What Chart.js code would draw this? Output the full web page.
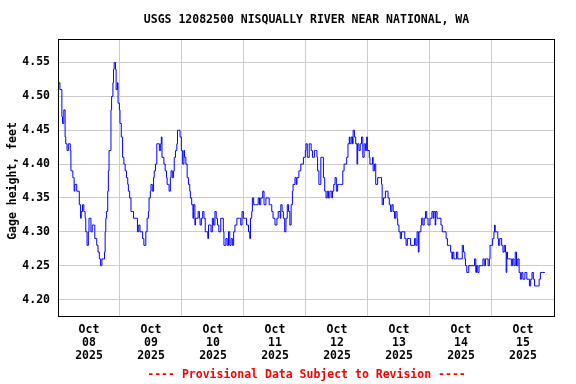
<!DOCTYPE html>
<html>
<head>
<meta charset="utf-8">
<script src="https://cdn.jsdelivr.net/npm/chart.js@4"></script>
<style>
  html, body { margin: 0; padding: 0; background: #ffffff; }
  canvas { display: block; }
</style>
</head>
<body>
<canvas id="gageChart" width="576" height="384"></canvas>
<script>
/* ---------- DATA ---------- */
// hours since Oct 08 2025 00:00, gage height in feet
const hours = [
  0, 0.75, 1.5, 1.75, 2.25, 2.75, 3, 3.5, 4, 4.75, 5, 5.75, 6.25, 6.5, 7.25, 7.75,
  8.25, 8.75, 9, 9.5, 10, 10.5, 10.75, 11.25, 11.75, 12, 12.75, 13.25, 13.75, 14.25, 14.75, 15,
  15.5, 16, 16.5, 17, 17.5, 18, 18.25, 18.5, 18.75, 19.25, 19.5, 19.75, 20.5, 20.75, 21.25, 21.5,
  21.75, 22.25, 22.5, 23, 23.25, 23.75, 24, 24.5, 25, 25.5, 26, 26.5, 27, 27.25, 27.75, 28.25,
  28.75, 29.25, 29.75, 30.25, 30.75, 31.25, 31.75, 32.25, 32.75, 33.25, 33.75, 34, 34.5, 35, 35.25, 35.75,
  36, 36.5, 37, 37.25, 37.75, 38.25, 38.75, 39.25, 39.75, 40, 40.25, 41, 41.5, 42, 42.25, 42.75,
  43, 43.5, 43.75, 44.25, 44.75, 45, 45.5, 46, 46.25, 46.75, 47.25, 47.75, 48.25, 48.75, 49, 49.5,
  50, 50.5, 51, 51.25, 51.75, 52.25, 52.5, 53, 53.25, 53.75, 54.25, 54.75, 55, 55.5, 56, 56.5,
  57, 57.5, 58, 58.25, 58.75, 59.25, 59.75, 60.25, 60.75, 61.25, 61.75, 62.25, 63, 63.5, 64, 64.25,
  65, 65.5, 66, 66.5, 67, 67.5, 68, 68.5, 69.25, 70.25, 70.75, 71.25, 71.75, 72.5, 73, 73.75,
  74.25, 74.5, 75, 75.25, 75.75, 76.5, 77, 77.5, 78, 78.5, 79.25, 79.75, 80.5, 81.5, 81.75, 82.25,
  82.75, 83.25, 84, 84.75, 85.25, 86, 86.25, 86.75, 87.25, 87.75, 88.25, 88.75, 89.25, 89.75, 90.25, 90.75,
  91, 91.75, 92.25, 92.5, 93.25, 93.75, 94, 94.5, 95, 95.25, 95.75, 96, 96.5, 97.25, 97.75, 98,
  98.5, 98.75, 99.25, 99.75, 100.25, 100.5, 101, 101.75, 102.25, 102.75, 103.25, 103.75, 104.25, 104.75, 105.25, 106,
  106.25, 106.75, 107.25, 107.75, 108.25, 109, 109.5, 110.25, 110.75, 111.25, 111.75, 112.25, 112.75, 113, 113.5, 114,
  114.25, 114.75, 115.25, 115.75, 116, 116.5, 117, 117.5, 118, 118.5, 119, 119.5, 119.75, 120.5, 120.75, 121.25,
  121.75, 122, 122.5, 123, 123.75, 124.5, 125.25, 125.5, 126, 126.25, 126.75, 127.5, 127.75, 128.25, 128.75, 129.25,
  129.75, 130.25, 130.75, 131.25, 131.5, 132, 132.5, 133, 133.75, 134.25, 134.75, 135.25, 136, 136.5, 137.5, 138,
  138.5, 139, 139.5, 139.75, 140.5, 140.75, 141.25, 141.75, 142.25, 142.75, 143.25, 144, 144.75, 145.25, 145.5, 146,
  146.25, 146.75, 147.5, 148.25, 148.75, 149.25, 149.75, 150.25, 150.75, 151.5, 152, 152.5, 152.75, 153.25, 153.75, 154.25,
  154.75, 155.25, 156, 156.5, 157, 157.5, 157.75, 158.25, 158.75, 159, 160.25, 160.75, 161.25, 161.75, 162, 162.5,
  163, 163.75, 164.5, 165, 165.5, 166, 166.5, 167, 167.25, 167.75, 168.25, 168.75, 169, 169.25, 169.75, 170.25,
  170.5, 171, 171.5, 171.75, 172.25, 172.75, 173.25, 173.5, 173.75, 174, 174.5, 175, 175.5, 176, 176.5, 177,
  177.5, 178, 178.5, 179, 179.5, 180, 180.75, 181.5, 182, 182.5, 183, 183.5, 184, 184.5, 185.25, 186,
  186.25, 186.75, 187.5, 188.5
];
const gage = [
  4.52, 4.51, 4.47, 4.46, 4.48, 4.44, 4.43, 4.42, 4.43, 4.42, 4.39, 4.38, 4.36, 4.37, 4.36, 4.36,
  4.34, 4.32, 4.33, 4.34, 4.33, 4.32, 4.30, 4.28, 4.30, 4.32, 4.30, 4.31, 4.31, 4.29, 4.29, 4.28,
  4.27, 4.26, 4.25, 4.26, 4.26, 4.27, 4.30, 4.32, 4.33, 4.36, 4.39, 4.42, 4.48, 4.50, 4.52, 4.54,
  4.55, 4.54, 4.51, 4.52, 4.49, 4.48, 4.46, 4.44, 4.41, 4.40, 4.39, 4.38, 4.37, 4.36, 4.35, 4.33,
  4.33, 4.32, 4.32, 4.32, 4.30, 4.31, 4.30, 4.30, 4.29, 4.28, 4.28, 4.30, 4.32, 4.33, 4.35, 4.36,
  4.37, 4.36, 4.38, 4.39, 4.40, 4.43, 4.43, 4.42, 4.43, 4.44, 4.41, 4.40, 4.39, 4.38, 4.37, 4.37,
  4.36, 4.38, 4.39, 4.38, 4.39, 4.41, 4.42, 4.43, 4.45, 4.45, 4.44, 4.42, 4.40, 4.42, 4.41, 4.40,
  4.38, 4.37, 4.36, 4.35, 4.34, 4.32, 4.34, 4.31, 4.32, 4.32, 4.33, 4.32, 4.31, 4.32, 4.33, 4.32,
  4.30, 4.30, 4.29, 4.31, 4.31, 4.30, 4.32, 4.31, 4.33, 4.32, 4.31, 4.30, 4.32, 4.32, 4.30, 4.28,
  4.29, 4.28, 4.30, 4.28, 4.29, 4.28, 4.30, 4.31, 4.32, 4.32, 4.31, 4.33, 4.32, 4.32, 4.31, 4.30,
  4.29, 4.32, 4.33, 4.35, 4.34, 4.34, 4.34, 4.35, 4.34, 4.35, 4.36, 4.34, 4.35, 4.35, 4.34, 4.34,
  4.33, 4.32, 4.31, 4.32, 4.33, 4.32, 4.34, 4.33, 4.32, 4.30, 4.32, 4.34, 4.33, 4.31, 4.34, 4.36,
  4.37, 4.38, 4.37, 4.38, 4.39, 4.39, 4.40, 4.40, 4.41, 4.41, 4.42, 4.43, 4.41, 4.43, 4.43, 4.42,
  4.41, 4.41, 4.42, 4.42, 4.41, 4.39, 4.37, 4.41, 4.41, 4.38, 4.36, 4.35, 4.36, 4.35, 4.36, 4.35,
  4.36, 4.37, 4.38, 4.36, 4.37, 4.37, 4.37, 4.39, 4.40, 4.40, 4.41, 4.43, 4.44, 4.43, 4.44, 4.43,
  4.45, 4.44, 4.43, 4.40, 4.43, 4.42, 4.43, 4.44, 4.41, 4.43, 4.42, 4.44, 4.42, 4.41, 4.40, 4.40,
  4.41, 4.39, 4.40, 4.37, 4.38, 4.38, 4.37, 4.34, 4.35, 4.35, 4.36, 4.36, 4.35, 4.34, 4.33, 4.34,
  4.33, 4.32, 4.33, 4.32, 4.31, 4.30, 4.29, 4.30, 4.30, 4.29, 4.28, 4.29, 4.29, 4.28, 4.28, 4.29,
  4.28, 4.30, 4.27, 4.30, 4.31, 4.32, 4.31, 4.32, 4.33, 4.32, 4.31, 4.32, 4.33, 4.32, 4.33, 4.31,
  4.33, 4.32, 4.32, 4.31, 4.30, 4.30, 4.30, 4.29, 4.28, 4.28, 4.27, 4.26, 4.27, 4.26, 4.26, 4.27,
  4.26, 4.26, 4.26, 4.28, 4.27, 4.26, 4.25, 4.24, 4.24, 4.25, 4.25, 4.25, 4.26, 4.24, 4.25, 4.24,
  4.25, 4.25, 4.26, 4.25, 4.26, 4.26, 4.25, 4.26, 4.28, 4.28, 4.29, 4.30, 4.31, 4.30, 4.30, 4.29,
  4.28, 4.29, 4.29, 4.28, 4.27, 4.28, 4.27, 4.24, 4.27, 4.26, 4.26, 4.26, 4.25, 4.26, 4.25, 4.27,
  4.25, 4.26, 4.24, 4.23, 4.24, 4.23, 4.24, 4.23, 4.23, 4.22, 4.23, 4.24, 4.23, 4.22, 4.22, 4.22,
  4.23, 4.24, 4.24, 4.24
];

// x axis: one label per day at noon, grid lines at midnight
const dayLabels = ["08", "09", "10", "11", "12", "13", "14", "15"];
const monthLabel = "Oct";
const yearLabel = "2025";
const yTicks = [4.20, 4.25, 4.30, 4.35, 4.40, 4.45, 4.50, 4.55];

const chartTitle = "USGS 12082500 NISQUALLY RIVER NEAR NATIONAL, WA";
const yTitle = "Gage height, feet";
const footerText = "---- Provisional Data Subject to Revision ----";

/* ---------- CHART ---------- */
document.addEventListener("DOMContentLoaded", () => {
    const FONT_FAMILY = "'DejaVu Sans Mono', 'Liberation Mono', monospace";
    const tickFont = { family: FONT_FAMILY, size: 11.5, weight: "bold", lineHeight: "13px" };

    // frame + title + y title + provisional footer
    const textPlugin = {
        id: "usgsText",
        afterDraw: function(chart) {
            const ctx = chart.ctx;
            const a = chart.chartArea;
            ctx.save();
            ctx.strokeStyle = "#000000";
            ctx.lineWidth = 1;
            ctx.strokeRect(a.left + 0.5, a.top + 0.5, a.right - a.left - 1, a.bottom - a.top - 1);

            ctx.font = "bold 11.5px " + FONT_FAMILY;
            ctx.textAlign = "center";
            ctx.textBaseline = "middle";
            ctx.fillStyle = "#000000";
            const cx = (a.left + a.right) / 2;
            ctx.fillText(chartTitle, cx, 20);

            ctx.save();
            ctx.translate(13, 181);
            ctx.rotate(-Math.PI / 2);
            ctx.fillText(yTitle, 0, 0);
            ctx.restore();

            ctx.fillStyle = "#ff0000";
            ctx.fillText(footerText, cx, 375);
            ctx.restore();
        }
    };

    const ctx = document.getElementById("gageChart").getContext("2d");
    new Chart(ctx, {
        type: "line",
        data: {
            datasets: [{
                data: hours.map((h, i) => ({ x: h, y: gage[i] })),
                borderColor: "#0000ff",
                borderWidth: 1,
                pointRadius: 0,
                stepped: true,
                fill: false
            }]
        },
        options: {
            responsive: false,
            animation: false,
            devicePixelRatio: 1,
            events: [],
            layout: { padding: { top: 39, right: 21, left: 0, bottom: 0 } },
            plugins: {
                legend: { display: false },
                tooltip: { enabled: false },
                title: { display: false }
            },
            scales: {
                x: {
                    type: "linear",
                    min: 0,
                    max: 192.4,
                    afterFit: (scale) => { scale.height = 67; },
                    afterBuildTicks: (scale) => {
                        const t = [];
                        for (let v = 12; v <= 180; v += 12) t.push({ value: v });
                        scale.ticks = t;
                    },
                    border: { display: false },
                    grid: {
                        drawTicks: false,
                        lineWidth: 1,
                        color: (c) => (c.tick && c.tick.value % 24 === 0) ? "#cccccc" : "rgba(0,0,0,0)"
                    },
                    ticks: {
                        autoSkip: false,
                        maxRotation: 0,
                        padding: 7,
                        color: "#000000",
                        font: tickFont,
                        callback: (v) => {
                            if (v % 24 !== 12) return "";
                            return [monthLabel, dayLabels[(v - 12) / 24], yearLabel];
                        }
                    }
                },
                y: {
                    min: 4.1742,
                    max: 4.5847,
                    afterFit: (scale) => { scale.width = 58; },
                    afterBuildTicks: (scale) => {
                        scale.ticks = yTicks.map(v => ({ value: v }));
                    },
                    border: { display: false },
                    grid: { drawTicks: false, color: "#cccccc", lineWidth: 1 },
                    ticks: {
                        padding: 8,
                        color: "#000000",
                        font: tickFont,
                        callback: (v) => Number(v).toFixed(2)
                    }
                }
            }
        },
        plugins: [textPlugin]
    });
});
</script>
</body>
</html>
